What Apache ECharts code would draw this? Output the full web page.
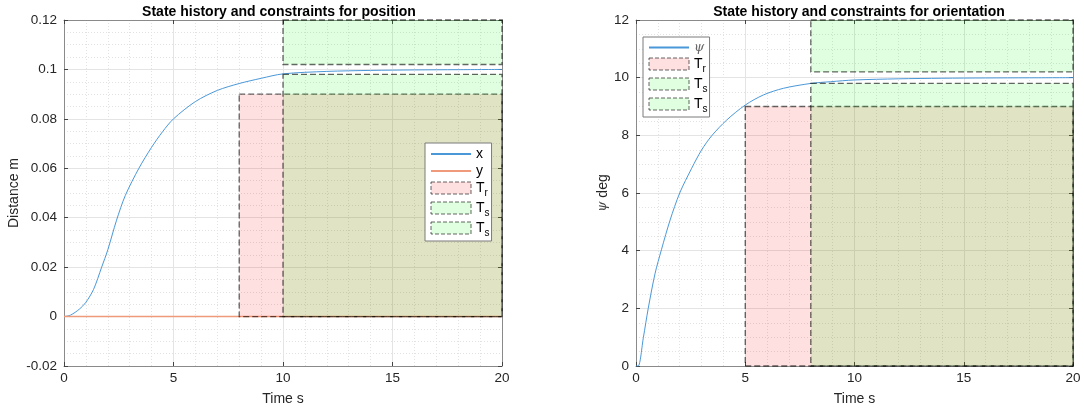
<!DOCTYPE html>
<html>
<head>
<meta charset="utf-8">
<script src="https://cdn.jsdelivr.net/npm/echarts@6/dist/echarts.min.js"></script>
<style>
  html, body { margin: 0; padding: 0; background: #fff; }
  #chart { width: 1084px; height: 412px; }
</style>
</head>
<body>
<div id="chart"></div>
<script>
// Position response (m) over time (s)
const posTime = [0, 0.3, 0.7, 1.0, 1.35, 1.72, 2.0, 2.4, 2.8, 3.42, 4.0, 4.5, 5.0, 6.0, 7.0, 8.0, 9.0, 10, 12, 14, 16, 18, 20];
const posX    = [0, 0.0006, 0.003, 0.0058, 0.011, 0.02, 0.027, 0.039, 0.049, 0.06, 0.0685, 0.0748, 0.08, 0.087, 0.0915, 0.0943, 0.0964, 0.0982, 0.0992, 0.0996, 0.0998, 0.0999, 0.1];
const posYTime = [0, 20];
const posY     = [0, 0];

// Orientation response (deg) over time (s)
const oriTime = [0, 0.1, 0.34, 0.56, 0.87, 1.17, 1.56, 2.0, 2.55, 3.0, 3.46, 4.15, 5.0, 5.83, 6.74, 8.0, 8.9, 10, 12, 14, 16, 18, 20];
const oriPsi  = [0, 0, 1.0, 2.0, 3.2, 4.05, 5.06, 6.0, 6.86, 7.49, 7.98, 8.53, 9.05, 9.4, 9.63, 9.8, 9.86, 9.92, 9.96, 9.98, 9.99, 9.995, 10];

// Constraint boxes: [tStart, tEnd, low, high]
const posRise    = [8, 20, 0, 0.09];
const posSettleL = [10, 20, 0, 0.098];
const posSettleH = [10, 20, 0.102, 0.12];
const oriRise    = [5, 20, 0, 9];
const oriSettleL = [8, 20, 0, 9.8];
const oriSettleH = [8, 20, 10.2, 12];

// Axis ranges and tick steps
const timeRange = [0, 20, 5];
const posRange  = [-0.02, 0.12, 0.02];
const oriRange  = [0, 12, 2];

const FONT = 'Liberation Sans, Arial, Helvetica, sans-serif';
const AXIS_COLOR = '#8a8a8a';
const TEXT_COLOR = '#262626';
const LINE_BLUE = '#4a98d8';
const LINE_ORANGE = '#ef9a7a';
const RISE_FILL = 'rgba(255,0,0,0.12)';
const SETTLE_FILL = 'rgba(0,255,0,0.12)';
const BOX_STROKE = 'rgba(0,0,0,0.6)';

const pairs = (xs, ys) => xs.map((x, i) => [x, ys[i]]);

function boxSeries(name, box, fill, axisIdx) {
  return {
    type: 'custom',
    name: name,
    xAxisIndex: axisIdx, yAxisIndex: axisIdx,
    clip: false,
    z: 3,
    itemStyle: { color: fill, borderColor: BOX_STROKE, borderType: 'dashed', borderWidth: 1 },
    encode: { x: [0, 1], y: [2, 3] },
    data: [box],
    renderItem: function (params, api) {
      const a = api.coord([api.value(0), api.value(3)]);
      const b = api.coord([api.value(1), api.value(2)]);
      return {
        type: 'rect',
        shape: { x: a[0], y: a[1], width: b[0] - a[0], height: b[1] - a[1] },
        style: { fill: fill, stroke: BOX_STROKE, lineWidth: 1.3, lineDash: [6, 3] }
      };
    }
  };
}

function bottomAxis(gridIndex) {
  return {
    type: 'value', gridIndex: gridIndex, position: 'bottom',
    min: timeRange[0], max: timeRange[1], interval: timeRange[2],
    name: 'Time s', nameLocation: 'middle', nameGap: 26,
    nameTextStyle: { fontFamily: FONT, fontSize: 14, color: TEXT_COLOR },
    axisLine: { show: true, onZero: false, lineStyle: { color: AXIS_COLOR, width: 1 } },
    axisTick: { show: true, inside: true, length: 4, lineStyle: { color: '#444' } },
    axisLabel: { fontFamily: FONT, fontSize: 13.5, color: TEXT_COLOR, margin: 5 },
    minorTick: { show: false, splitNumber: 5 },
    splitLine: { show: true, lineStyle: { color: '#e4e4e4', width: 1 } },
    minorSplitLine: { show: true, lineStyle: { color: '#e2e2e2', width: 1, type: [1, 2] } }
  };
}
function topAxis(gridIndex) {
  return {
    type: 'value', gridIndex: gridIndex, position: 'top',
    min: timeRange[0], max: timeRange[1], interval: timeRange[2],
    axisLine: { show: true, onZero: false, lineStyle: { color: AXIS_COLOR, width: 1 } },
    axisTick: { show: true, inside: true, length: 4, lineStyle: { color: '#444' } },
    axisLabel: { show: false }, splitLine: { show: false }
  };
}
function leftAxis(gridIndex, range, name, nameGap, fmt, nameRich) {
  return {
    type: 'value', gridIndex: gridIndex, position: 'left',
    min: range[0], max: range[1], interval: range[2],
    name: name, nameLocation: 'middle', nameGap: nameGap,
    nameTextStyle: { fontFamily: FONT, fontSize: 14, color: TEXT_COLOR, rich: nameRich || {} },
    axisLine: { show: true, onZero: false, lineStyle: { color: AXIS_COLOR, width: 1 } },
    axisTick: { show: true, inside: true, length: 4, lineStyle: { color: '#444' } },
    axisLabel: { fontFamily: FONT, fontSize: 13.5, color: TEXT_COLOR, margin: 7, formatter: fmt },
    minorTick: { show: false, splitNumber: 4 },
    splitLine: { show: true, lineStyle: { color: '#e4e4e4', width: 1 } },
    minorSplitLine: { show: true, lineStyle: { color: '#e2e2e2', width: 1, type: [1, 2] } }
  };
}
function rightAxis(gridIndex, range) {
  return {
    type: 'value', gridIndex: gridIndex, position: 'right',
    min: range[0], max: range[1], interval: range[2],
    axisLine: { show: true, onZero: false, lineStyle: { color: AXIS_COLOR, width: 1 } },
    axisTick: { show: true, inside: true, length: 4, lineStyle: { color: '#444' } },
    axisLabel: { show: false }, splitLine: { show: false }
  };
}

const subRich = {
  sub: { fontFamily: FONT, fontSize: 10, color: '#000', padding: [10, 0, 0, 0] },
  psi: { fontFamily: 'DejaVu Serif, serif', fontStyle: 'italic', fontSize: 13, color: '#666' }
};
function legendLabel(name) {
  const n = name.trim();
  if (n === 'Tr') return 'T{sub|r}';
  if (n === 'Ts') return 'T{sub|s}';
  if (n === 'ψ') return '{psi|ψ}';
  return n;
}
function legendBox(left, top, items) {
  return {
    orient: 'vertical', left: left, top: top,
    itemWidth: 40, itemHeight: 12, itemGap: 3,
    padding: [4, 2, 3, 5],
    backgroundColor: '#fff', borderColor: '#7a7a7a', borderWidth: 1, borderRadius: 0,
    textStyle: { fontFamily: FONT, fontSize: 14, color: '#000', rich: subRich },
    formatter: legendLabel,
    data: items
  };
}
// Line entries show only the stroke, without a marker dot
const lineItem = (n) => ({ name: n, itemStyle: { opacity: 0, borderWidth: 0 } });
const riseItem = (n) => ({ name: n, icon: 'rect', itemStyle: { color: RISE_FILL, borderColor: BOX_STROKE, borderType: 'dashed', borderWidth: 1 } });
const settleItem = (n) => ({ name: n, icon: 'rect', itemStyle: { color: SETTLE_FILL, borderColor: BOX_STROKE, borderType: 'dashed', borderWidth: 1 } });

const option = {
  animation: false,
  backgroundColor: '#fff',
  title: [
    { text: 'State history and constraints for position', left: 274, top: 0, textAlign: 'center',
      textStyle: { fontFamily: FONT, fontSize: 14, fontWeight: 'bold', color: '#000' } },
    { text: 'State history and constraints for orientation', left: 854, top: 0, textAlign: 'center',
      textStyle: { fontFamily: FONT, fontSize: 14, fontWeight: 'bold', color: '#000' } }
  ],
  grid: [
    { left: 64, right: 582, top: 20, bottom: 46 },
    { left: 636, right: 11, top: 20, bottom: 46 }
  ],
  xAxis: [bottomAxis(0), bottomAxis(1), topAxis(0), topAxis(1)],
  yAxis: [
    leftAxis(0, posRange, 'Distance m', 43, (v) => String(+v.toFixed(2))),
    leftAxis(1, oriRange, '{psi|ψ} deg', 25, (v) => String(+v.toFixed(0)),
      { psi: { fontFamily: 'DejaVu Serif, serif', fontStyle: 'italic', fontSize: 13, color: '#444' } }),
    rightAxis(0, posRange), rightAxis(1, oriRange)
  ],
  legend: [
    legendBox(425, 143, [
      lineItem('x'), lineItem('y'),
      riseItem('Tr'), settleItem('Ts'), settleItem('Ts ')
    ]),
    legendBox(643, 37, [
      lineItem('ψ'),
      riseItem('Tr  '), settleItem('Ts  '), settleItem('Ts   ')
    ])
  ],
  series: [
    { type: 'line', name: 'x', xAxisIndex: 0, yAxisIndex: 0, data: pairs(posTime, posX),
      showSymbol: false, symbol: 'none', smooth: 0.3, z: 2,
      lineStyle: { color: LINE_BLUE, width: 1 }, itemStyle: { color: LINE_BLUE } },
    { type: 'line', name: 'y', xAxisIndex: 0, yAxisIndex: 0, data: pairs(posYTime, posY),
      showSymbol: false, symbol: 'none', z: 2,
      lineStyle: { color: LINE_ORANGE, width: 1.5 }, itemStyle: { color: LINE_ORANGE } },
    boxSeries('Tr', posRise, RISE_FILL, 0),
    boxSeries('Ts', posSettleL, SETTLE_FILL, 0),
    boxSeries('Ts ', posSettleH, SETTLE_FILL, 0),
    { type: 'line', name: 'ψ', xAxisIndex: 1, yAxisIndex: 1, data: pairs(oriTime, oriPsi),
      showSymbol: false, symbol: 'none', smooth: 0.3, z: 2,
      lineStyle: { color: LINE_BLUE, width: 1 }, itemStyle: { color: LINE_BLUE } },
    boxSeries('Tr  ', oriRise, RISE_FILL, 1),
    boxSeries('Ts  ', oriSettleL, SETTLE_FILL, 1),
    boxSeries('Ts   ', oriSettleH, SETTLE_FILL, 1)
  ]
};

const chart = echarts.init(document.getElementById('chart'), null, { renderer: 'canvas' });
chart.setOption(option);
</script>
</body>
</html>
